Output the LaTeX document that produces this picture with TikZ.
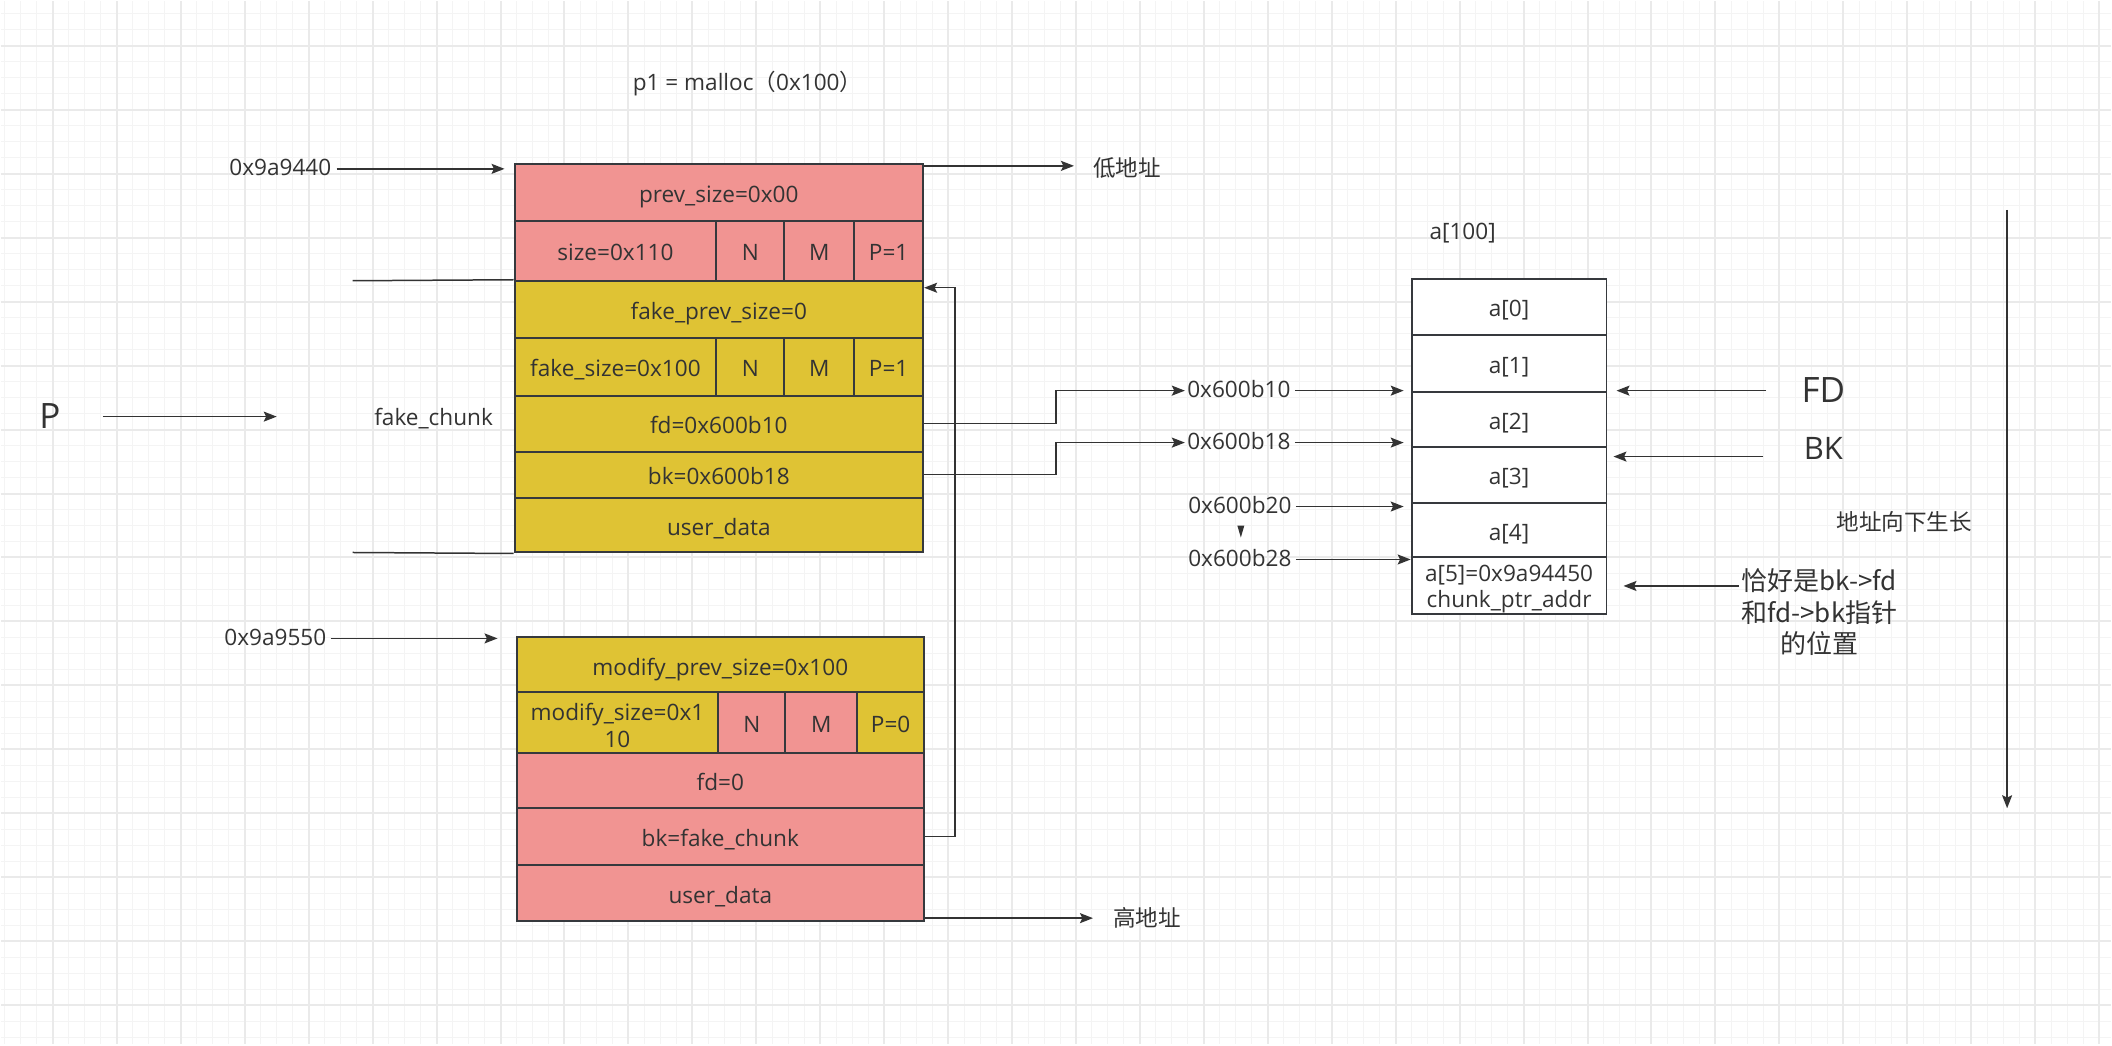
\documentclass[tikz,border=0pt]{standalone}
\usepackage{fontspec}
\setmainfont{Open Sans}
\newfontfamily\cjk{Noto Sans CJK SC}
\usetikzlibrary{arrows.meta}
\definecolor{pinkc}{HTML}{F19492}
\definecolor{yelc}{HTML}{DFC334}
\definecolor{linec}{HTML}{36393D}
\definecolor{txtc}{HTML}{333333}
\definecolor{gminor}{HTML}{F4F4F4}
\definecolor{gmajor}{HTML}{EAEAEA}
\newcommand\mcell[8][ctl]{%
  \pgfmathsetmacro\cw{(#4-#2)*0.5}\pgfmathsetmacro\ch{(#5-#3)*0.5}%
  \node[cellbox,#1,fill=#6,minimum width=\cw pt,minimum height=\ch pt] (#7) at ({(#2+#4)/2},{(#3+#5)/2}) {#8};}
\begin{document}
\begin{tikzpicture}[x=0.5pt,y=-0.5pt,
  every node/.style={text=txtc, font=\fontsize{11.3}{13.5}\selectfont, inner sep=0pt},
  tl/.style={text height=1.75ex, text depth=0.45ex},
  ctl/.style={text height=2.1ex, text depth=0.2ex},
  cellbox/.style={draw=linec, line width=1pt, align=center},
  lbl/.style={tl},
  cjkf/.style={font=\cjk\fontsize{11.3}{13.5}\selectfont},
  big/.style={tl, font=\fontsize{17.5}{21}\selectfont},
  arr/.style={draw=txtc, line width=0.75pt, -{Stealth[length=6.5pt,width=5pt,inset=1.2pt]}},
  ln/.style={draw=txtc, line width=0.75pt}]
% background grid
\fill[white] (0,0) rectangle (2112,1044);
\foreach \x in {4,20,...,2112} \draw[gminor, line width=0.5pt] (\x,0) -- (\x,1044);
\foreach \y in {13,29,...,1044} \draw[gminor, line width=0.5pt] (0,\y) -- (2112,\y);
\foreach \x in {52,116,...,2112} \draw[gmajor, line width=1pt] (\x,0) -- (\x,1044);
\foreach \y in {45,109,...,1044} \draw[gmajor, line width=1pt] (0,\y) -- (2112,\y);
\useasboundingbox (0,0) rectangle (2112,1044);

% top chunk
\mcell{514}{163}{923}{220}{pinkc}{r1}{prev\_size=0x00}
\mcell{514}{220}{716}{280}{pinkc}{r2a}{size=0x110}
\mcell{716}{220}{784}{280}{pinkc}{r2n}{N}
\mcell{784}{220}{854}{280}{pinkc}{r2m}{M}
\mcell{854}{220}{923}{280}{pinkc}{r2p}{P=1}
\mcell{514}{280}{923}{337}{yelc}{r3}{fake\_prev\_size=0}
\mcell{514}{337}{716}{395}{yelc}{r4a}{fake\_size=0x100}
\mcell{716}{337}{784}{395}{yelc}{r4n}{N}
\mcell{784}{337}{854}{395}{yelc}{r4m}{M}
\mcell{854}{337}{923}{395}{yelc}{r4p}{P=1}
\mcell{514}{395}{923}{451}{yelc}{r5}{fd=0x600b10}
\mcell{514}{451}{923}{497}{yelc}{r6}{bk=0x600b18}
\mcell{514}{497}{923}{552}{yelc}{r7}{user\_data}

% bottom chunk
\mcell{516}{637}{924}{692}{yelc}{b1}{modify\_prev\_size=0x100}
\mcell[font=\fontsize{11.3}{13.5}\selectfont, text height=26pt, text depth=1.5pt]{516}{692}{718}{753}{yelc}{b2a}{modify\_size=0x1\\10}
\mcell{718}{692}{785}{753}{pinkc}{b2n}{N}
\mcell{785}{692}{857}{753}{pinkc}{b2m}{M}
\mcell{857}{692}{924}{753}{yelc}{b2p}{P=0}
\mcell{516}{753}{924}{808}{pinkc}{b3}{fd=0}
\mcell{516}{808}{924}{865}{pinkc}{b4}{bk=fake\_chunk}
\mcell{516}{865}{924}{921}{pinkc}{b5}{user\_data}

% array
\mcell{1412}{278}{1607}{334}{white}{a0}{a[0]}
\mcell{1412}{334}{1607}{391}{white}{a1}{a[1]}
\mcell{1412}{391}{1607}{446}{white}{a2}{a[2]}
\mcell{1412}{446}{1607}{502}{white}{a3}{a[3]}
\mcell{1412}{502}{1607}{557}{white}{a4}{a[4]}
\mcell[font=\fontsize{11.3}{13}\selectfont, text height=23pt, text depth=1.5pt]{1412}{557}{1607}{614}{white}{a5}{a[5]=0x9a94450\\chunk\_ptr\_addr}

% labels
\node[lbl, anchor=west] (title) at (632,83) {p1 = malloc{\cjk（}0x100{\cjk）}};
\node[lbl, anchor=east] (l9440) at (331,168) {0x9a9440};
\node[cjkf, anchor=west] (ldi) at (1093,167) {低地址};
\node[lbl] (lfc) at (433,418) {fake\_chunk};
\node[big] (lP) at (49,421) {P};
\node[lbl, anchor=east] (l9550) at (326,638) {0x9a9550};
\node[cjkf, anchor=west] (lgao) at (1113,918) {高地址};
\node[lbl] (la100) at (1463,232) {a[100]};
\node[lbl, anchor=east] (l610) at (1291,390) {0x600b10};
\node[lbl, anchor=east] (l618) at (1291,442) {0x600b18};
\node[lbl, anchor=east] (l620) at (1292,506) {0x600b20};
\node[lbl, anchor=east] (l628) at (1292,559) {0x600b28};
\node[big] (lFD) at (1824,395) {FD};
\node[big, font=\fontsize{15.5}{19}\selectfont] (lBK) at (1824,452) {BK};
\node[cjkf] (lgrow) at (1905,521) {地址向下生长};
\node[font=\cjk\fontsize{13}{15.75}\selectfont, align=center] (lnote) at (1820,612) {恰好是bk->fd\\和fd->bk指针\\的位置};

\coordinate (fc1) at (352,280);
\coordinate (fc2) at (352,552);
\coordinate (pend) at (276,416);
\coordinate (vtop) at (2008,209);
\coordinate (vbot) at (2008,808);

% small marker between 0x600b20 and 0x600b28
\fill[txtc] (1237.5,525) -- (1244.5,525) -- (1241,537) -- cycle;

% connectors
\draw[arr, shorten <=2.5pt, shorten >=4.5pt] (l9440.east) -- (l9440.east -| r1.west);
\draw[arr, shorten >=9.5pt] ([yshift=-1.5pt]r1.north east) -- ([yshift=-1.5pt]r1.north east -| ldi.west);
\draw[ln] (fc1) -- (r3.north west);
\draw[ln] (fc2) -- (r7.south west);
\draw[arr, shorten <=21pt] (lP.east |- pend) -- (pend);
\draw[arr, shorten >=1pt] (r5.east) -- ++(132,0) |- (l610.west);
\draw[arr, shorten >=1pt] (r6.east) -- ++(132,0) |- (l618.west);
\draw[arr, shorten <=2pt, shorten >=3.5pt] (l610.east) -- (l610.east -| a1.west);
\draw[arr, shorten <=2pt, shorten >=3.5pt] (l618.east) -- (l618.east -| a2.west);
\draw[arr, shorten <=2pt, shorten >=3.5pt] (l620.east) -- (l620.east -| a3.west);
\draw[arr, shorten <=2pt] (l628.east) -- (l628.east -| a4.west);
\draw[arr, shorten <=17.5pt, shorten >=4.5pt] (lFD.west |- l610.east) -- (l610.east -| a1.east);
\draw[arr, shorten <=20pt, shorten >=3pt] ([yshift=-2pt]lBK.west) -- ([yshift=-2pt]lBK.west -| a2.east);
\draw[arr, shorten <=1pt, shorten >=8pt] (lnote.west |- a5.east) -- (a5.east);
\draw[arr] (b4.east) -- ++(30,0) |- ([yshift=-4pt]r3.north east);
\draw[arr, shorten <=2pt, shorten >=9pt] (l9550.east) -- (l9550.east -| b1.west);
\draw[arr, shorten >=10pt] ([yshift=2pt]b5.south east) -- ([yshift=2pt]b5.south east -| lgao.west);
\draw[arr] (vtop) -- (vbot);
\end{tikzpicture}
\end{document}
